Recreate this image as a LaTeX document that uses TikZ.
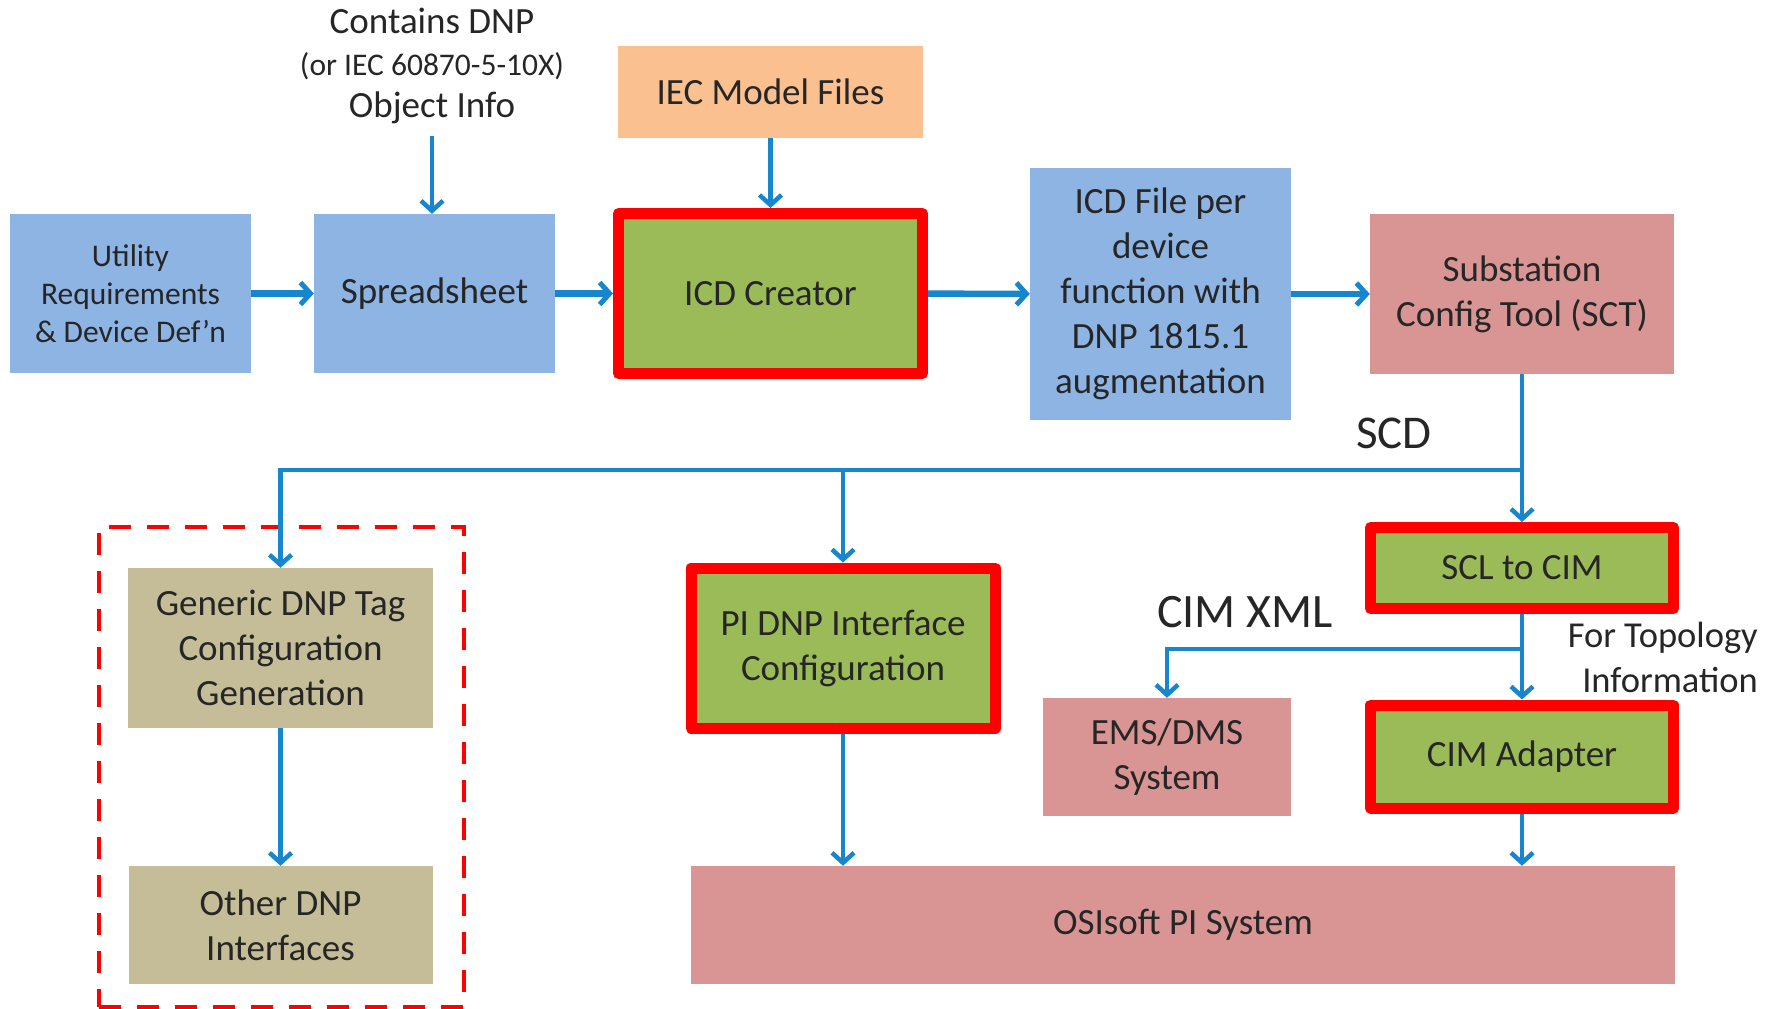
\documentclass[tikz,border=0pt]{standalone}
\usepackage{fontspec}
\setmainfont{Carlito}
\usetikzlibrary{arrows.meta}
\definecolor{lineblue}{HTML}{1786CC}
\definecolor{boxblue}{HTML}{8EB4E3}
\definecolor{boxorange}{HTML}{FAC090}
\definecolor{boxgreen}{HTML}{9BBB59}
\definecolor{boxpink}{HTML}{D99594}
\definecolor{boxtan}{HTML}{C4BD97}
\definecolor{txt}{HTML}{262626}
\begin{document}
\begin{tikzpicture}[x=1pt,y=-1pt,
  base/.style={inner sep=0pt, align=center, text=txt, font=\fontsize{37}{45}\selectfont},
  bluebox/.style={base, fill=boxblue},
  orangebox/.style={base, fill=boxorange},
  pinkbox/.style={base, fill=boxpink},
  tanbox/.style={base, fill=boxtan},
  redbox/.style={base, fill=boxgreen, draw=red, line width=11pt, line join=round},
  lbl/.style={inner sep=0pt, align=center, text=txt, font=\fontsize{37}{42}\selectfont},
  arr/.style={draw=lineblue, line width=4.5pt, -{Straight Barb[length=10pt,width=22pt,line width=4.5pt]}},
  arrthick/.style={draw=lineblue, line width=6.5pt, -{Straight Barb[length=10pt,width=22pt,line width=5pt]}},
  dashbox/.style={draw=red, line width=4.5pt, dash pattern=on 22pt off 16pt, inner sep=0pt}
]
\useasboundingbox (0,0) rectangle (1778,1009);
\fill[white] (0,0) rectangle (1778,1009);

% top row
\node[bluebox, minimum width=241, minimum height=159, font=\fontsize{31.5}{38}\selectfont] (util) at (130.5,293.5) {Utility\\Requirements\\\& Device Def’n};
\node[bluebox, minimum width=241, minimum height=159] (sheet) at (434.5,293.5) {Spreadsheet};
\node[redbox, minimum width=304, minimum height=160] (icd) at (770.5,293.5) {ICD Creator};
\node[orangebox, minimum width=305, minimum height=92] (iec) at (770.5,92) {IEC Model Files};
\node[bluebox, minimum width=261, minimum height=252] (icdfile) at (1160.5,294) {ICD File per\\device\\function with\\DNP 1815.1\\augmentation};
\node[pinkbox, minimum width=304, minimum height=160] (sct) at (1522,294) {Substation\\Config Tool (SCT)};

\node[lbl] (note) at (432,66) {Contains DNP\\{\fontsize{31.5}{42}\selectfont (or IEC 60870-5-10X)}\\Object Info};

% lower
\node[dashbox, minimum width=365, minimum height=480] (grp) at (281.5,767) {};
\node[tanbox, minimum width=305, minimum height=160] (gen) at (280.5,648) {Generic DNP Tag\\Configuration\\Generation};
\node[tanbox, minimum width=304, minimum height=118] (other) at (280.5,925) {Other DNP\\Interfaces};
\node[redbox, minimum width=304, minimum height=160] (pidnp) at (843,648) {PI DNP Interface\\Configuration};
\node[redbox, minimum width=303, minimum height=81] (sclcim) at (1522,568) {SCL to CIM};
\node[redbox, minimum width=303, minimum height=103] (cimad) at (1522,756.5) {CIM Adapter};
\node[pinkbox, minimum width=248, minimum height=118] (ems) at (1167,757) {EMS/DMS\\System};
\node[pinkbox, minimum width=984, minimum height=118] (osi) at (1183,925) {OSIsoft PI System};

\node[lbl, font=\fontsize{47}{50}\selectfont] (scd) at (1394,433) {SCD};
\node[lbl, font=\fontsize{48}{50}\selectfont] (cimxml) at (1245,612) {CIM XML};
\node[lbl, align=right, anchor=east, font=\fontsize{36.5}{45}\selectfont] (topo) at (1758,657) {For Topology\\Information};

% connectors
\draw[arrthick] (util) -- (sheet);
\draw[arrthick] (sheet) -- (icd);
\draw[arrthick] (icd) -- (icdfile);
\draw[arrthick] (icdfile.east |- sct.west) -- (sct.west);
\draw[arr] (iec) -- (icd);
\draw[arr] ([yshift=-12pt]note.south) -- (note.south |- sheet.north);

\coordinate (bus) at (1522,470);
\draw[arr] (sct) -- (sclcim);
\draw[arr] (bus) -| (gen.north);
\draw[arr] (bus -| pidnp.north) -- (pidnp.north);
\draw[arr] (gen) -- (other);
\draw[arr] (sclcim) -- (cimad);
\coordinate (cimbr) at (1522,649);
\draw[arr] (cimbr) -| (ems.north);
\draw[arr] (pidnp.south) -- (pidnp.south |- osi.north);
\draw[arr] (cimad.south) -- (cimad.south |- osi.north);
\end{tikzpicture}
\end{document}
